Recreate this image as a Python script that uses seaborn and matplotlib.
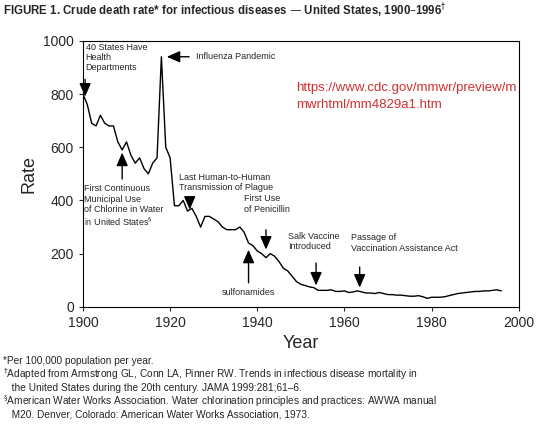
import matplotlib
matplotlib.use("Agg")
import matplotlib.pyplot as plt
import seaborn as sns
import pandas as pd

years = list(range(1900, 1997))
rate = [800, 760, 690, 680, 720, 690, 680, 680, 620, 590, 620, 570, 540, 560, 520, 500, 540, 560, 940, 600,
        560, 380, 380, 400, 360, 370, 340, 300, 340, 340, 330, 320, 300, 290, 290, 290, 300, 280, 240, 230,
        210, 200, 185, 200, 190, 170, 145, 135, 115, 95, 85, 80, 75, 72, 62, 62, 62, 64, 58, 58,
        60, 54, 56, 60, 56, 52, 52, 50, 54, 50, 46, 46, 44, 44, 42, 40, 40, 42, 38, 32,
        36, 36, 36, 38, 42, 46, 50, 52, 54, 56, 58, 58, 60, 60, 62, 64, 60]
df = pd.DataFrame({"Year": years, "Rate": rate})

sns.set_style("white")
plt.rcParams['font.family'] = ['Liberation Sans', 'DejaVu Sans']
fig = plt.figure(figsize=(5.53, 4.25), dpi=100)
ax = fig.add_axes([0.15, 0.278, 0.788, 0.626])
sns.lineplot(data=df, x="Year", y="Rate", color="black", lw=1.0, ax=ax)
ax.set_xlim(1900, 2000)
ax.set_ylim(0, 1000)
ax.set_xticks(range(1900, 2001, 20))
ax.set_yticks(range(0, 1001, 200))
ax.tick_params(labelsize=10, length=3, direction="out", bottom=True, left=True)
ax.set_xlabel("Year", fontsize=13)
ax.set_ylabel("Rate", fontsize=13)
for s in ax.spines.values():
    s.set_color("black"); s.set_linewidth(0.8)

ap = dict(arrowstyle="-|>,head_width=0.35,head_length=0.8", color="black", lw=1)
fs = 6.5
ax.text(1900.6, 990, "40 States Have\nHealth\nDepartments", fontsize=fs, va="top", ha="left", linespacing=1.1)
ax.annotate("", xy=(1900.5, 780), xytext=(1900.5, 865), arrowprops=ap)
ax.annotate("", xy=(1918.6, 940), xytext=(1925, 940), arrowprops=ap)
ax.text(1926, 940, "Influenza Pandemic", fontsize=fs, va="center")
ax.annotate("", xy=(1909, 590), xytext=(1909, 470), arrowprops=ap)
ax.text(1900.3, 460, "First Continuous\nMunicipal Use\nof Chlorine in Water\nin United States$^§$",
        fontsize=fs, va="top", linespacing=1.15)
ax.text(1922, 430, "Last Human-to-Human\nTransmission of Plague", fontsize=fs, va="bottom")
ax.annotate("", xy=(1924.5, 355), xytext=(1924.5, 425), arrowprops=ap)
ax.text(1937, 350, "First Use\nof Penicillin", fontsize=fs, va="bottom")
ax.annotate("", xy=(1942, 205), xytext=(1942, 300), arrowprops=ap)
ax.annotate("", xy=(1938, 225), xytext=(1938, 80), arrowprops=ap)
ax.text(1938, 55, "sulfonamides", fontsize=fs, ha="center", va="center")
ax.text(1947, 245, "Salk Vaccine\nIntroduced", fontsize=fs, va="center")
ax.annotate("", xy=(1953.5, 70), xytext=(1953.5, 175), arrowprops=ap)
ax.text(1961.5, 240, "Passage of\nVaccination Assistance Act", fontsize=fs, va="center")
ax.annotate("", xy=(1963.5, 62), xytext=(1963.5, 160), arrowprops=ap)
ax.text(1949, 790, "https://www.cdc.gov/mmwr/preview/m\nmwrhtml/mm4829a1.htm", color="#d03030",
        fontsize=9.5, va="center", linespacing=1.6)

fig.text(0.005, 0.975, "FIGURE 1. Crude death rate* for infectious diseases — United States, 1900–1996$^†$",
         fontsize=8.3, fontweight="bold", va="center")
fig.text(0.005, 0.163,
         "*Per 100,000 population per year.\n"
         "$^†$Adapted from Armstrong GL, Conn LA, Pinner RW. Trends in infectious disease mortality in\n"
         "   the United States during the 20th century. JAMA 1999:281;61–6.\n"
         "$^§$American Water Works Association. Water chlorination principles and practices: AWWA manual\n"
         "   M20. Denver, Colorado: American Water Works Association, 1973.",
         fontsize=7.3, va="top", linespacing=1.05)
fig.savefig("out.png", dpi=100)
